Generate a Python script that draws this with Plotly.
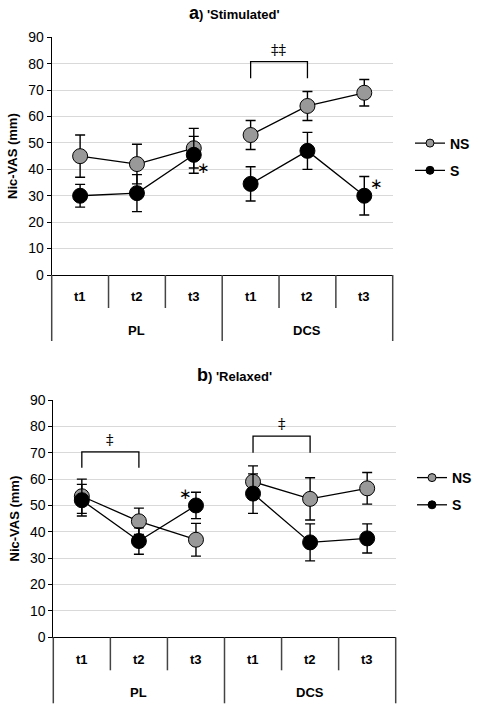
import plotly.graph_objects as go

# ---------------- data ----------------
times = ["t1", "t2", "t3"]
groups = ["PL", "DCS"]

a_NS = [45, 42, 48, 53, 64, 69]
a_NS_err = [8, 7.5, 7.5, 5.5, 5.5, 5]
a_S = [30, 31, 45.5, 34.5, 47, 30]
a_S_err = [4.3, 7, 7, 6.5, 7, 7.3]

b_NS = [53.5, 44, 37, 59, 52.5, 56.5]
b_NS_err = [6.5, 5, 6.2, 6, 8, 6]
b_S = [52, 36.5, 50, 54.5, 36, 37.5]
b_S_err = [6, 5, 5, 7.5, 7, 5.5]

# significance brackets: (from index, to index, top value, bottom value, label)
a_brackets = [(3, 4, 80.8, 74.5, "‡‡")]
b_brackets = [(0, 1, 70.3, 64.3, "‡"), (3, 4, 76.3, 70.0, "‡")]
# asterisks: (index, value, pixel shift)
a_stars = [(2, 40.4, 10), (5, 34.5, 12)]
b_stars = [(2, 54.5, -10)]

W, H = 478, 704
FONT = "Liberation Sans, Arial, Helvetica, sans-serif"
NS_COLOR = "#999999"
S_COLOR = "#000000"
TABLE_COLOR = "#444444"


def px_x(p):
    return p / W


def px_y(p):
    return 1 - p / H


fig = go.Figure()

panels = [
    dict(xa="x", ya="y", leg="legend", ns=a_NS, nse=a_NS_err, s=a_S, se=a_S_err,
         br=a_brackets, st=a_stars, xpx=(51.7, 392.7), ypx=(37.3, 275.0),
         title="<b><span style='font-size:18px'>a</span>) 'Stimulated'</b>", ty=13,
         legx=410, legy=157),
    dict(xa="x2", ya="y2", leg="legend2", ns=b_NS, nse=b_NS_err, s=b_S, se=b_S_err,
         br=b_brackets, st=b_stars, xpx=(53.3, 395.7), ypx=(400.0, 637.3),
         title="<b><span style='font-size:18px'>b</span>) 'Relaxed'</b>", ty=375,
         legx=412, legy=491.5),
]

ncat = len(groups) * len(times)
xs = list(range(ncat))
shapes = []
annotations = []

for p in panels:
    # data traces, one per group so lines are not joined across groups
    for name, vals, errs, col in (("NS", p["ns"], p["nse"], NS_COLOR), ("S", p["s"], p["se"], S_COLOR)):
        for g in range(len(groups)):
            sl = slice(g * len(times), (g + 1) * len(times))
            fig.add_trace(go.Scatter(
                x=xs[sl], y=vals[sl], xaxis=p["xa"], yaxis=p["ya"],
                mode="lines+markers", showlegend=False, name=name,
                line=dict(color="black", width=1.3),
                marker=dict(size=15, color=col, line=dict(color="black", width=1)),
                error_y=dict(type="data", array=errs[sl], visible=True,
                             color="black", thickness=1.4, width=5),
            ))
        # legend entry
        fig.add_trace(go.Scatter(
            x=[None], y=[None], xaxis=p["xa"], yaxis=p["ya"], name="<b>%s</b>" % name,
            mode="lines+markers", legend=p["leg"], legendgroup=p["leg"] + name,
            line=dict(color="black", width=1.3),
            marker=dict(size=8, color=col, line=dict(color="black", width=1)),
        ))

    xd = p["xa"] + " domain"
    axis_y = p["ypx"][1]
    # table lines below axis
    for k in range(ncat + 1):
        outer = (k % len(times) == 0)
        shapes.append(dict(type="line", xref=xd, yref="paper",
                           x0=k / ncat, x1=k / ncat,
                           y0=px_y(axis_y), y1=px_y(axis_y + (66 if outer else 33)),
                           line=dict(color=TABLE_COLOR, width=1.5)))
    # category labels
    for i in range(ncat):
        annotations.append(dict(text="<b>%s</b>" % times[i % len(times)], xref=p["xa"], x=xs[i],
                                yref="paper", y=px_y(axis_y + 21.7), showarrow=False,
                                font=dict(family=FONT, size=13, color="black"),
                                xanchor="center", yanchor="middle"))
    for g, gname in enumerate(groups):
        annotations.append(dict(text="<b>%s</b>" % gname, xref=xd, x=(g + 0.5) / len(groups),
                                yref="paper", y=px_y(axis_y + 55), showarrow=False,
                                font=dict(family=FONT, size=13, color="black"),
                                xanchor="center", yanchor="middle"))
    # brackets
    for (i0, i1, top, bot, lab) in p["br"]:
        shapes.append(dict(type="path", xref=p["xa"], yref=p["ya"],
                           path="M %s,%s L %s,%s L %s,%s L %s,%s" % (xs[i0], bot, xs[i0], top, xs[i1], top, xs[i1], bot),
                           line=dict(color="black", width=1.3)))
        annotations.append(dict(text=lab, xref=p["xa"], yref=p["ya"], x=(xs[i0] + xs[i1]) / 2,
                                y=top, yshift=12, showarrow=False,
                                font=dict(family="DejaVu Serif, Liberation Serif, serif", size=15, color="black"),
                                xanchor="center", yanchor="middle"))
    # asterisks
    for (i, v, sh) in p["st"]:
        annotations.append(dict(text="∗", xref=p["xa"], yref=p["ya"], x=xs[i], y=v, xshift=sh,
                                showarrow=False,
                                font=dict(family="DejaVu Sans, sans-serif", size=15, color="black"),
                                xanchor="center", yanchor="middle"))
    # panel title
    annotations.append(dict(text=p["title"], xref="paper", yref="paper", x=px_x(234), y=px_y(p["ty"]),
                            showarrow=False, font=dict(family=FONT, size=13, color="black"),
                            xanchor="center", yanchor="middle"))

axis_common_y = dict(range=[0, 90], dtick=10, showgrid=True, gridcolor="#d9d9d9", gridwidth=1,
                     showline=True, linecolor="black", linewidth=1, ticks="outside", ticklen=4,
                     tickcolor="black", zeroline=False, automargin=False,
                     tickfont=dict(family=FONT, size=14, color="black"),
                     title=dict(text="<b>Nic-VAS (mm)</b>", font=dict(family=FONT, size=13, color="black"),
                                standoff=7))
axis_common_x = dict(range=[-0.5, ncat - 0.5], showgrid=False, zeroline=False, showticklabels=False,
                     showline=True, linecolor="black", linewidth=1, ticks="", automargin=False)

p0, p1 = panels
legend_common = dict(xanchor="left", yanchor="middle",
                     font=dict(family=FONT, size=14, color="black"), bgcolor="rgba(0,0,0,0)",
                     tracegroupgap=6, traceorder="grouped")
fig.update_layout(
    width=W, height=H, margin=dict(l=0, r=0, t=0, b=0, autoexpand=False),
    paper_bgcolor="white", plot_bgcolor="white",
    font=dict(family=FONT, color="black"),
    xaxis=dict(domain=[px_x(p0["xpx"][0]), px_x(p0["xpx"][1])], anchor="y", **axis_common_x),
    yaxis=dict(domain=[px_y(p0["ypx"][1]), px_y(p0["ypx"][0])], anchor="x", **axis_common_y),
    xaxis2=dict(domain=[px_x(p1["xpx"][0]), px_x(p1["xpx"][1])], anchor="y2", **axis_common_x),
    yaxis2=dict(domain=[px_y(p1["ypx"][1]), px_y(p1["ypx"][0])], anchor="x2", **axis_common_y),
    legend=dict(x=px_x(p0["legx"]), y=px_y(p0["legy"]), **legend_common),
    legend2=dict(x=px_x(p1["legx"]), y=px_y(p1["legy"]), **legend_common),
    shapes=shapes, annotations=annotations, showlegend=True,
)

fig.write_html("out.html", config={"displayModeBar": False},
               post_script="document.body.style.margin='0px';document.body.style.overflow='hidden';")
